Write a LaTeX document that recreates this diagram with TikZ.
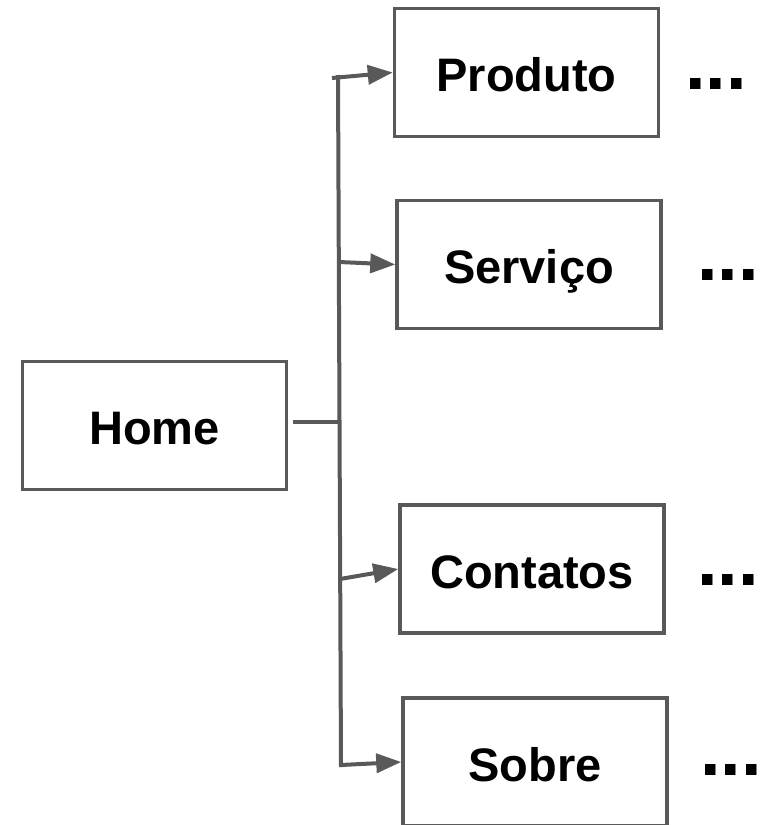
\documentclass[tikz,border=0pt]{standalone}
\usepackage{fontspec}
\setmainfont{Liberation Sans}
\usetikzlibrary{arrows.meta}
\definecolor{linegray}{HTML}{595959}
\begin{document}
\begin{tikzpicture}[x=1pt,y=-1pt,
  pagebox/.style={draw=linegray,line width=3.5pt,rectangle,minimum width=264pt,minimum height=128pt,inner sep=0pt,text height=38pt,text depth=0pt,font=\fontsize{47}{50}\selectfont\bfseries},
  dots/.style={inner sep=0pt,anchor=base west,font=\fontsize{74}{80}\selectfont\bfseries},
  conn/.style={draw=linegray,line width=4pt},
  arr/.style={conn,-{Triangle[length=25pt,width=19pt]}}]
\clip (0,0) rectangle (770,825);
\node[pagebox] (produto) at (526.5,72.5) {Produto};
\node[pagebox] (servico) at (529,264.5) {Serviço};
\node[pagebox] (home) at (154.5,425.5) {Home};
\node[pagebox] (contatos) at (532,569) {Contatos};
\node[pagebox] (sobre) at (535,762) {Sobre};
\node[dots] (d1) at (685,89.5) {...};
\node[dots] (d2) at (697,280) {...};
\node[dots] (d3) at (697,585) {...};
\node[dots] (d4) at (700,775) {...};
\coordinate (ttop) at (338,75);
\coordinate (tbot) at (341,767);
\coordinate (j1) at (332,78);
\coordinate (j2) at (339,262);
\coordinate (jh) at (340,422);
\coordinate (hs) at (293,422);
\coordinate (j3) at (340,579);
\coordinate (j4) at (341,765);
\draw[conn] (ttop) -- (tbot);
\draw[conn] (hs) -- (jh);
\draw[arr] (j1) -- (produto.west);
\draw[arr] (j2) -- (servico.west);
\draw[arr] (j3) -- (contatos.west);
\draw[arr] (j4) -- (sobre.west);
\end{tikzpicture}
\end{document}
